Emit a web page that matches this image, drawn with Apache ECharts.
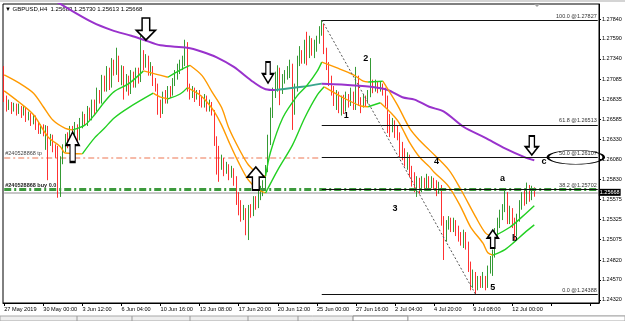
<!DOCTYPE html>
<html><head><meta charset="utf-8">
<script src="https://cdn.jsdelivr.net/npm/echarts/dist/echarts.min.js"></script>
<style>html,body{margin:0;padding:0;background:#fff}#c{width:625px;height:321px}</style>
</head><body><div id="c"></div>
<script>
// ---------- DATA ----------
const barCount = 244; // visible slots incl. chart shift
const tickLabels = ['27 May 2019','30 May 00:00','3 Jun 12:00','6 Jun 04:00','10 Jun 16:00','13 Jun 08:00','17 Jun 20:00','20 Jun 12:00','25 Jun 00:00','27 Jun 16:00','2 Jul 04:00','4 Jul 20:00','9 Jul 08:00','12 Jul 00:00'];
const priceTicks = [1.24320,1.24570,1.24820,1.25075,1.25325,1.25575,1.25830,1.26080,1.26330,1.26585,1.26835,1.27085,1.27340,1.27590,1.27840];
const firstOpen = 1.2720;
const closes = [
1.2683,1.2673,1.2678,1.2670,1.2675,1.2668,1.2673,1.2665,1.2670,1.2660,1.2664,1.2655,1.2660,1.2650,1.2645,1.2647,
1.2642,1.2647,1.2632,1.2635,1.2622,1.2617,1.2570,1.2607,1.2622,1.2635,1.2630,1.2645,1.2640,1.2647,1.2635,1.2651,
1.2660,1.2655,1.2668,1.2663,1.2676,1.2670,1.2689,1.2683,1.2705,1.2698,1.2718,1.2701,1.2726,1.2718,1.2733,1.2710,
1.2720,1.2698,1.2708,1.2693,1.2713,1.2703,1.2718,1.2708,1.2735,1.2728,1.2733,1.2718,1.2720,1.2705,1.2698,1.2676,
1.2668,1.2689,1.2683,1.2695,1.2690,1.2705,1.2713,1.2720,1.2725,1.2730,1.2745,1.2698,1.2689,1.2695,1.2685,1.2690,
1.2683,1.2678,1.2685,1.2673,1.2676,1.2668,1.2632,1.2620,1.2601,1.2607,1.2595,1.2597,1.2589,1.2595,1.2582,1.2563,
1.2551,1.2538,1.2545,1.2522,1.2545,1.2542,1.2557,1.2551,1.2563,1.2567,1.2576,1.2595,1.2632,1.2664,1.2689,1.2708,
1.2714,1.2695,1.2708,1.2714,1.2718,1.2723,1.2670,1.2698,1.2730,1.2739,1.2733,1.2748,1.2739,1.2755,1.2745,1.2748,
1.2758,1.2768,1.2775,1.2745,1.2726,1.2708,1.2695,1.2683,1.2689,1.2676,1.2683,1.2673,1.2685,1.2680,1.2689,1.2683,
1.2708,1.2683,1.2676,1.2685,1.2680,1.2689,1.2705,1.2698,1.2703,1.2695,1.2701,1.2693,1.2683,1.2660,1.2647,1.2655,
1.2645,1.2639,1.2626,1.2617,1.2607,1.2610,1.2595,1.2585,1.2576,1.2582,1.2572,1.2580,1.2576,1.2582,1.2576,1.2580,
1.2576,1.2570,1.2572,1.2532,1.2510,1.2526,1.2530,1.2522,1.2527,1.2520,1.2512,1.2507,1.2513,1.2501,1.2476,1.2451,
1.2463,1.2447,1.2457,1.2452,1.2460,1.2452,1.2470,1.2480,1.2488,1.2513,1.2526,1.2538,1.2547,1.2563,1.2535,1.2542,
1.2530,1.2517,1.2535,1.2551,1.2563,1.2557,1.2572,1.2560,1.25683,1.25668];
const highs = [
1.2725,1.2688,1.2683,1.2680,1.2679,1.2678,1.2678,1.2675,1.2675,1.2673,1.2668,1.2666,1.2664,1.2663,1.2655,1.2652,
1.2652,1.2651,1.2650,1.2640,1.2639,1.2627,1.2625,1.2612,1.2627,1.2640,1.2642,1.2650,1.2650,1.2655,1.2652,1.2660,
1.2668,1.2665,1.2675,1.2673,1.2683,1.2683,1.2698,1.2695,1.2714,1.2713,1.2725,1.2723,1.2735,1.2733,1.2748,1.2738,
1.2726,1.2725,1.2715,1.2713,1.2720,1.2718,1.2723,1.2723,1.2763,1.2745,1.2740,1.2738,1.2730,1.2725,1.2710,1.2703,
1.2683,1.2693,1.2695,1.2700,1.2700,1.2710,1.2720,1.2728,1.2733,1.2738,1.2758,1.2755,1.2703,1.2700,1.2698,1.2695,
1.2695,1.2688,1.2690,1.2688,1.2683,1.2680,1.2670,1.2637,1.2625,1.2614,1.2610,1.2605,1.2602,1.2600,1.2597,1.2587,
1.2567,1.2557,1.2551,1.2547,1.2551,1.2552,1.2562,1.2562,1.2570,1.2575,1.2582,1.2601,1.2639,1.2673,1.2698,1.2718,
1.2726,1.2723,1.2715,1.2720,1.2725,1.2733,1.2728,1.2703,1.2738,1.2750,1.2745,1.2758,1.2768,1.2763,1.2760,1.2758,
1.2763,1.2775,1.27827,1.2778,1.2748,1.2730,1.2713,1.2700,1.2695,1.2693,1.2688,1.2689,1.2693,1.2690,1.2698,1.2693,
1.2724,1.2713,1.2686,1.2689,1.2688,1.2695,1.2735,1.2708,1.2708,1.2705,1.2705,1.2703,1.2698,1.2688,1.2665,1.2660,
1.2657,1.2650,1.2642,1.2630,1.2622,1.2617,1.2614,1.2600,1.2592,1.2587,1.2585,1.2587,1.2585,1.2590,1.2587,1.2587,
1.2585,1.2582,1.2580,1.2576,1.2537,1.2532,1.2537,1.2535,1.2535,1.2532,1.2525,1.2517,1.2520,1.2517,1.2505,1.2480,
1.2470,1.2467,1.2462,1.2462,1.2467,1.2462,1.2475,1.2487,1.2495,1.2522,1.2535,1.2545,1.2552,1.2570,1.2567,1.2550,
1.2547,1.2535,1.2540,1.2557,1.2567,1.2570,1.2579,1.2576,1.2575,1.25730];
const lows = [
1.2680,1.2668,1.2670,1.2665,1.2668,1.2663,1.2665,1.2660,1.2663,1.2655,1.2657,1.2650,1.2652,1.2645,1.2640,1.2640,
1.2637,1.2620,1.2582,1.2625,1.2617,1.2610,1.2560,1.2561,1.2602,1.2617,1.2622,1.2625,1.2632,1.2635,1.2630,1.2632,
1.2647,1.2650,1.2650,1.2657,1.2657,1.2665,1.2668,1.2678,1.2678,1.2693,1.2693,1.2695,1.2698,1.2713,1.2714,1.2705,
1.2701,1.2683,1.2693,1.2688,1.2690,1.2698,1.2698,1.2703,1.2705,1.2720,1.2723,1.2713,1.2713,1.2700,1.2693,1.2664,
1.2660,1.2665,1.2678,1.2678,1.2685,1.2688,1.2700,1.2708,1.2715,1.2720,1.2725,1.2693,1.2683,1.2685,1.2680,1.2683,
1.2675,1.2673,1.2673,1.2668,1.2668,1.2663,1.2625,1.2589,1.2580,1.2595,1.2587,1.2590,1.2582,1.2585,1.2575,1.2551,
1.2538,1.2530,1.2532,1.2513,1.2507,1.2535,1.2537,1.2545,1.2547,1.2557,1.2562,1.2572,1.2592,1.2626,1.2660,1.2685,
1.2693,1.2676,1.2690,1.2703,1.2708,1.2710,1.2645,1.2664,1.2693,1.2725,1.2728,1.2728,1.2726,1.2735,1.2738,1.2735,
1.2743,1.2753,1.2763,1.2740,1.2720,1.2700,1.2688,1.2675,1.2670,1.2666,1.2663,1.2665,1.2668,1.2673,1.2675,1.2670,
1.2670,1.2675,1.2666,1.2673,1.2674,1.2678,1.2686,1.2691,1.2693,1.2691,1.2693,1.2688,1.2674,1.2641,1.2636,1.2642,
1.2635,1.2632,1.2611,1.2607,1.2599,1.2595,1.2586,1.2574,1.2567,1.2561,1.2565,1.2567,1.2570,1.2572,1.2570,1.2572,
1.2570,1.2562,1.2565,1.2525,1.2482,1.2505,1.2520,1.2517,1.2517,1.2512,1.2505,1.2500,1.2497,1.2495,1.2467,1.2444,
1.2447,1.24388,1.2444,1.2447,1.2447,1.2444,1.2447,1.2465,1.2462,1.2485,1.2510,1.2522,1.2532,1.2542,1.2527,1.2527,
1.2522,1.2507,1.2512,1.2530,1.2545,1.2550,1.2552,1.2555,1.2557,1.25613];

// moving averages (bar index, price)
const upperMaBars = [0,6,12,16,20,25,28,33,37,41,45,51,57,62,67,72,76,81,85,89,92,96,100,104,107,109,114,120,124,128,130,136,143,147,149,155,161,166,170,174,182,187,193,197,200,207,212,217];
const upperMaValues = [1.2714,1.2704,1.2691,1.2674,1.2657,1.2647,1.2645,1.2651,1.2664,1.2680,1.2693,1.2703,1.2719,1.2715,1.2711,1.2720,1.2726,1.2713,1.2693,1.2673,1.2647,1.2622,1.2601,1.2590,1.2587,1.2617,1.2660,1.2688,1.2701,1.2718,1.2730,1.2723,1.2714,1.2706,1.2705,1.2706,1.2676,1.2647,1.2632,1.2620,1.2595,1.2570,1.2536,1.2516,1.2511,1.2523,1.2536,1.2550];
const lowerMaBars = [0,6,12,18,23,25,32,37,41,45,51,61,64,67,72,75,80,83,86,89,92,96,100,104,107,112,118,123,128,131,139,146,149,154,161,166,170,174,176,182,187,191,196,198,200,205,209,213,217];
const lowerMaValues = [1.2694,1.2680,1.2664,1.2636,1.2624,1.2616,1.2615,1.2635,1.2647,1.2660,1.2673,1.2691,1.2686,1.2684,1.2690,1.2698,1.2689,1.2680,1.2668,1.2651,1.2630,1.2604,1.2582,1.2570,1.2566,1.2595,1.2626,1.2660,1.2688,1.2699,1.2685,1.2675,1.2674,1.2679,1.2657,1.2629,1.2611,1.2599,1.2592,1.2574,1.2548,1.2523,1.2503,1.2491,1.2488,1.2495,1.2505,1.2516,1.2526];
const longMaBars = [0,24,36,44,52,57,64,75,81,87,94,102,107,111,122,130,138,150,157,163,168,174,180,188,197,205,213,217];
const longMaValues = [1.2845,1.2801,1.2780,1.2770,1.2763,1.2758,1.2751,1.2748,1.2743,1.2736,1.2724,1.2705,1.2696,1.2695,1.2699,1.2703,1.2702,1.2699,1.2695,1.2686,1.2683,1.2674,1.2668,1.2649,1.2635,1.2622,1.2611,1.2607];

// Fibonacci retracement
const fibStartBar = 130, fibEndBar = 193;
const fibLevels = ['100.0','61.8','50.0','38.2','0.0'];
const fibPrices = [1.27827,1.26513,1.26107,1.25702,1.24388];
// order lines
const tpPrice = 1.26105, buyPrice = 1.25705, bidPrice = 1.25668;
const tpText = '#240528868 tp', buyText = '#240528868 buy 0.0';
// wave labels
const waveLabels = ['1','2','3','4','5','a','b','c'];
const waveBars = [140,148,160,177,200,204,209,221];
const wavePrices = [1.26625,1.27351,1.25459,1.26048,1.24469,1.25835,1.25083,1.26048];
// arrows (tip position)
const arrowBars = [58,108,216,28,103,200];
const arrowPrices = [1.27577,1.27038,1.26136,1.26424,1.25985,1.25196];
const arrowDirs = ['down','down','down','up','up','up'];
const titleText = '\u25BC GBPUSD,H4  1.25683 1.25730 1.25613 1.25668';

// ---------- STYLE ----------
const FONT = 'Liberation Sans';
const arrowSizes = [[19,22],[11,21],[13,19],[13,30],[17,23],[11,18]];
const ellipseBar = 234;

const opens = closes.map((c, i) => i === 0 ? firstOpen : closes[i - 1]);
const ohlc = closes.map((c, i) => [opens[i], c, lows[i], highs[i]]);
const cats = Array.from({length: barCount}, (_, i) => String(i));

function slopeRuns(bars, vals, upColor, downColor, width) {
  const out = []; let cur = null, curUp = null;
  for (let k = 1; k < bars.length; k++) {
    const up = vals[k] > vals[k - 1];
    if (cur && up === curUp) cur.push([bars[k], vals[k]]);
    else { cur = [[bars[k - 1], vals[k - 1]], [bars[k], vals[k]]]; curUp = up; out.push({up, pts: cur}); }
  }
  return out.map(r => ({
    type: 'line', data: r.pts, symbol: 'none', showSymbol: false, silent: true, animation: false, smooth: 0.3,
    lineStyle: {color: r.up ? upColor : downColor, width}, z: 4, clip: true
  }));
}

function hLine(p, fromBar, toBar, lineStyle, label) {
  return [{coord: [fromBar, p], lineStyle, label}, {coord: [toBar, p], lineStyle}];
}

const fibData = fibPrices.map((p, k) => [
  {name: fibLevels[k] + ' @' + p.toFixed(5), coord: [fibStartBar, p]},
  {coord: [barCount - 1, p]}
]);
fibData.push([
  {coord: [fibStartBar, fibPrices[0]], lineStyle: {type: [2, 2], color: '#555', width: 1}, label: {show: false}},
  {coord: [fibEndBar, fibPrices[4]], lineStyle: {type: [2, 2], color: '#555', width: 1}}
]);

const upPath = 'path://M5,0 L10,7 L7,7 L7,16 L3,16 L3,7 L0,7 Z';
const downPath = 'path://M3,0 L7,0 L7,9 L10,9 L5,16 L0,9 L3,9 Z';
const ellipsePath = 'path://M0,7 C0,3.134 12.536,0 28,0 C43.464,0 56,3.134 56,7 C56,10.866 43.464,14 28,14 C12.536,14 0,10.866 0,7 Z';

const markPoints = [];
arrowBars.forEach((b, k) => {
  const [w, h] = arrowSizes[k];
  const up = arrowDirs[k] === 'up';
  markPoints.push({coord: [b, arrowPrices[k]], symbol: up ? upPath : downPath, symbolSize: [w, h],
    symbolOffset: [0, up ? h / 2 : -h / 2],
    itemStyle: {color: '#fff', borderColor: '#000', borderWidth: 1.6}, label: {show: false}});
});
waveLabels.forEach((t, k) => {
  markPoints.push({coord: [waveBars[k], wavePrices[k]], symbol: 'rect', symbolSize: 1,
    itemStyle: {color: 'rgba(0,0,0,0)'},
    label: {show: true, position: 'inside', formatter: t, fontWeight: 'bold', fontSize: 9, color: '#000', fontFamily: FONT}});
});
markPoints.push({coord: [ellipseBar, fibPrices[2]], symbol: ellipsePath, symbolSize: [56, 14],
  itemStyle: {color: 'rgba(0,0,0,0)', borderColor: '#000', borderWidth: 1.3}, label: {show: false}});

const series = [
  {
    type: 'line', data: [], z: 1, silent: true, animation: false,
    markLine: {
      silent: true, animation: false, symbol: ['none', 'none'], z: 1,
      data: [
        hLine(bidPrice, 0, barCount - 1, {color: '#C6C6C6', width: 2, type: 'solid'},
          {show: true, position: 'end', formatter: bidPrice.toFixed(5), backgroundColor: '#000', color: '#fff',
            padding: [1, 1, 0, 1], fontSize: 5.5, fontFamily: FONT, distance: 1}),
        hLine(tpPrice, 0, fibStartBar - 1, {color: '#F4A48C', width: 1.5, type: [6, 3, 2, 3]},
          {show: true, position: 'insideStartTop', formatter: tpText, color: '#444', fontSize: 5.5, fontFamily: FONT, distance: 1})
      ]
    }
  },
  {
    type: 'candlestick', data: ohlc, barWidth: 1.3, z: 2, silent: true, animation: false,
    itemStyle: {color: '#1E8E1E', color0: '#FF1A1A', borderColor: '#1E8E1E', borderColor0: '#FF1A1A', borderWidth: 0.9}
  },
  {
    type: 'line', data: [], z: 3, silent: true, animation: false,
    markLine: {
      silent: true, animation: false, symbol: ['none', 'none'], z: 3,
      data: [
        hLine(buyPrice, 0, barCount - 1, {color: '#3C9A3C', width: 3, type: [7, 3, 2, 3]},
          {show: true, position: 'insideStartTop', formatter: buyText, color: '#222', fontWeight: 'bold', fontSize: 5.5, fontFamily: FONT, distance: 1})
      ]
    }
  },
  ...slopeRuns(longMaBars, longMaValues, '#3AA58F', '#9932CC', 2),
  ...slopeRuns(upperMaBars, upperMaValues, '#22D022', '#FF9A00', 1.4),
  ...slopeRuns(lowerMaBars, lowerMaValues, '#22D022', '#FF9A00', 1.4),
  {
    type: 'line', data: [], z: 5, silent: true, animation: false,
    markLine: {
      silent: true, animation: false, symbol: ['none', 'none'], z: 5,
      lineStyle: {color: '#111', width: 1, type: 'solid'},
      label: {show: true, position: 'insideEndTop', formatter: '{b}', color: '#333', fontSize: 5.5, fontFamily: FONT, distance: 1},
      data: fibData
    }
  },
  {
    type: 'line', data: [], z: 6, silent: true, animation: false,
    markPoint: {silent: true, animation: false, z: 6, data: markPoints}
  }
];

const option = {
  animation: false,
  backgroundColor: '#fff',
  grid: {left: 3, right: 26, top: 4, bottom: 18, show: true, borderColor: '#000', borderWidth: 1, containLabel: false, outerBoundsMode: 'none'},
  xAxis: {
    type: 'category', data: cats, boundaryGap: true,
    axisLine: {show: true, lineStyle: {color: '#000', width: 1}},
    axisTick: {show: true, interval: 15, alignWithLabel: true, length: 3, lineStyle: {color: '#000'}},
    axisLabel: {interval: 15, align: 'left', margin: 3, fontSize: 5.6, color: '#000', fontFamily: FONT,
      formatter: (v, idx) => (idx % 16 === 0 && tickLabels[idx / 16]) || ''},
    splitLine: {show: false}
  },
  yAxis: {
    type: 'value', position: 'right', min: 1.24281, max: 1.28028, scale: true,
    axisLine: {show: true, lineStyle: {color: '#000', width: 1}},
    axisTick: {show: true, length: 2, customValues: priceTicks, lineStyle: {color: '#000'}},
    axisLabel: {customValues: priceTicks, formatter: v => v.toFixed(5), margin: 3, fontSize: 5.5, color: '#000', fontFamily: FONT},
    splitLine: {show: false}
  },
  graphic: [
    {type: 'rect', shape: {x: 0, y: 0, width: 625, height: 2}, style: {fill: '#D4D4D4'}, silent: true},
    {type: 'text', left: 5, top: 6, style: {text: titleText, font: '6px "Liberation Sans"', fill: '#000'}, silent: true},
    {type: 'polygon', shape: {points: [[534, 4], [540, 4], [537, 7]]}, style: {fill: '#A0A0A0'}, silent: true},
    {type: 'rect', shape: {x: 0, y: 316, width: 625, height: 5}, style: {fill: '#EEEEEE', stroke: '#A8A8A8', lineWidth: 1}, silent: true},
    {type: 'rect', shape: {x: 353, y: 316, width: 55, height: 5}, style: {fill: '#FFFFFF', stroke: '#888', lineWidth: 1}, silent: true},
    {type: 'rect', shape: {x: 408, y: 316, width: 217, height: 5}, style: {fill: '#FFFFFF', stroke: '#A8A8A8', lineWidth: 1}, silent: true},
    ...[77, 132, 190, 248, 298].map(x => ({type: 'line', shape: {x1: x, y1: 316, x2: x, y2: 321}, style: {stroke: '#999', lineWidth: 1}, silent: true}))
  ],
  series
};

const chart = echarts.init(document.getElementById('c'), null, {renderer: 'canvas', width: 625, height: 321});
chart.setOption(option);
</script>
</body></html>
